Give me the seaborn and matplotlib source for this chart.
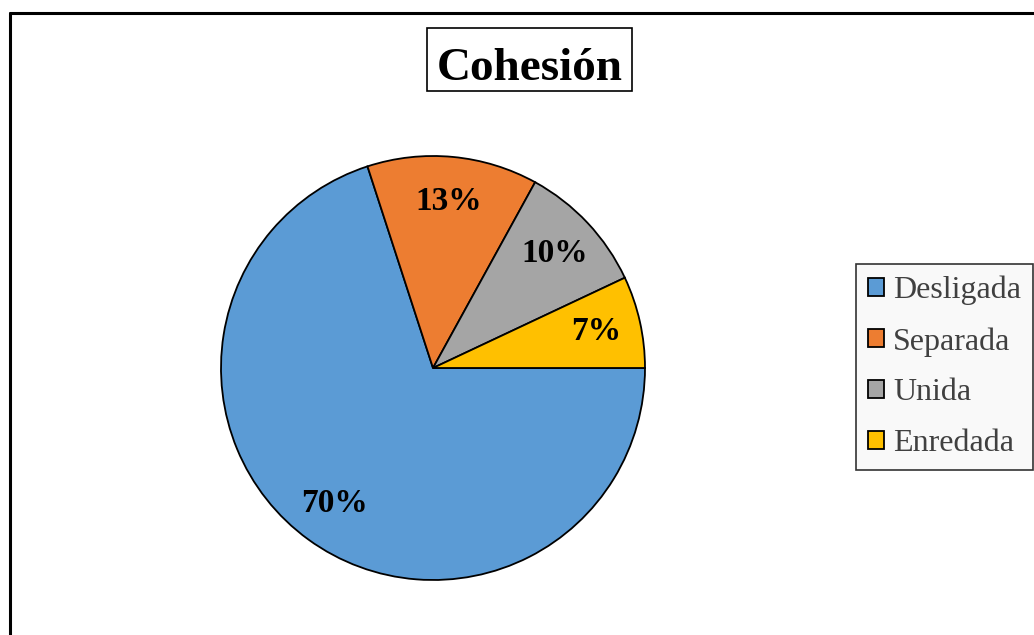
import matplotlib
matplotlib.use("Agg")
import matplotlib.pyplot as plt
import matplotlib.patches as mpatches
import seaborn as sns

# datos del gráfico
categorias = ["Desligada", "Separada", "Unida", "Enredada"]
porcentajes = [70, 13, 10, 7]
colores = ["#5B9BD5", "#ED7D31", "#A5A5A5", "#FFC000"]

sns.set_style("white")
plt.rcParams["font.family"] = ["Liberation Serif", "DejaVu Serif"]

W, H = 1034, 635
fig = plt.figure(figsize=(W / 100, H / 100), dpi=100)

# marco del gráfico (solo izquierda y arriba visibles)
fig.add_artist(plt.Line2D([9.5 / W, 9.5 / W], [0, 1 - 12.5 / H], color="black", lw=2.2,
                          transform=fig.transFigure))
fig.add_artist(plt.Line2D([9.5 / W, 1], [1 - 12.5 / H, 1 - 12.5 / H], color="black", lw=2.2,
                          transform=fig.transFigure))

# ejes del pastel: centro (433, 368), radio 212 px
cx, cy, r = 433, 368, 212
ax = fig.add_axes([(cx - r) / W, (H - cy - r) / H, 2 * r / W, 2 * r / H])
wedges, textos, autotextos = ax.pie(
    porcentajes, colors=colores, startangle=0, counterclock=False,
    autopct=lambda p: f"{p:.0f}%", pctdistance=0.79,
    wedgeprops=dict(edgecolor="black", linewidth=1.3),
    textprops=dict(fontsize=24, fontweight="bold", color="black"),
)
ax.set_xlim(-1, 1)
ax.set_ylim(-1, 1)
ax.axis("off")

# título con recuadro
fig.add_artist(mpatches.Rectangle((427 / W, 1 - 91 / H), 205 / W, 63 / H, transform=fig.transFigure,
                                  facecolor="white", edgecolor="black", linewidth=1.2))
fig.text(529.5 / W, 1 - 80 / H, "Cohesión", ha="center", va="baseline",
         fontsize=34, fontweight="bold", color="black")

# leyenda
handles = [mpatches.Patch(facecolor=c, edgecolor="black", linewidth=1.3, label=l)
           for c, l in zip(colores, categorias)]
leg = fig.legend(handles=handles, loc="center left", bbox_to_anchor=(856 / W, 1 - 367 / H),
                 frameon=True, fancybox=False, fontsize=23, handlelength=0.5, handleheight=0.5,
                 handletextpad=0.28, labelspacing=0.68, borderpad=0.38, borderaxespad=0)
leg.get_frame().set_edgecolor("black")
leg.get_frame().set_facecolor("#F8F8F8")
leg.get_frame().set_linewidth(1.2)
for t in leg.get_texts():
    t.set_color("#404040")

fig.savefig("out.png", dpi=100)
